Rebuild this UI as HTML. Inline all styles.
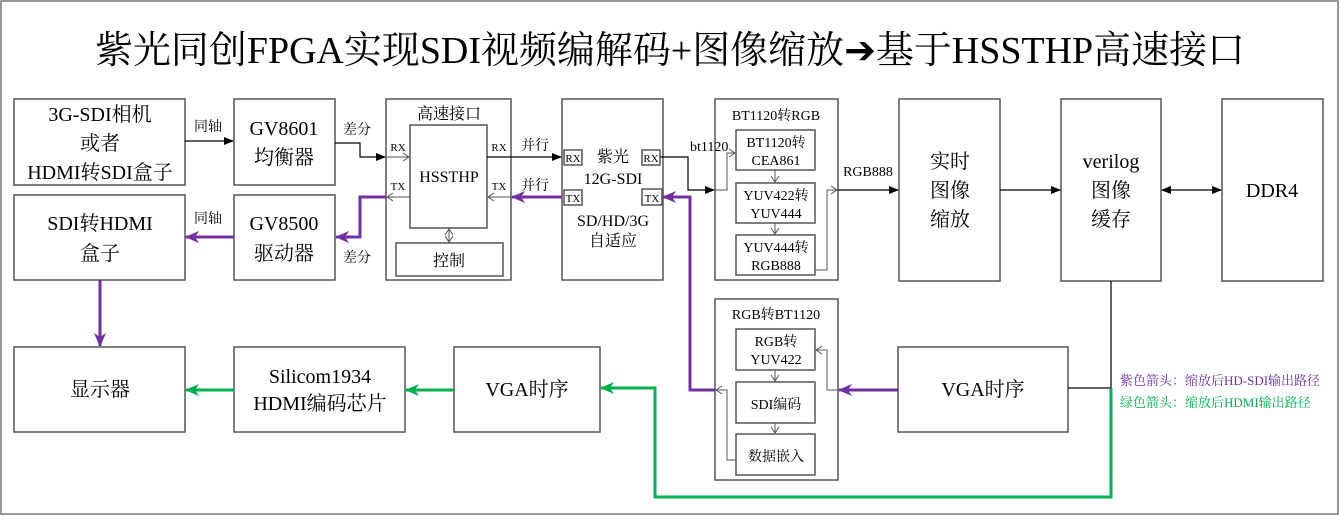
<!DOCTYPE html>
<html><head><meta charset="utf-8"><style>
html,body{margin:0;padding:0;background:#fff;}
svg{display:block;font-family:"Liberation Serif","Noto Serif CJK SC","Noto Sans CJK SC",serif;}
</style></head><body>
<svg width="1340" height="516" viewBox="0 0 1340 516" xmlns="http://www.w3.org/2000/svg">
<defs>
<marker id="ab" markerWidth="10" markerHeight="10" refX="9" refY="5" orient="auto" markerUnits="userSpaceOnUse"><path d="M0,1 L10,5 L0,9 z" fill="#000"/></marker>
<marker id="abs" markerWidth="10" markerHeight="10" refX="1" refY="5" orient="auto" markerUnits="userSpaceOnUse"><path d="M10,1 L0,5 L10,9 z" fill="#000"/></marker>
<marker id="ap" markerWidth="14" markerHeight="12" refX="13" refY="6" orient="auto" markerUnits="userSpaceOnUse"><path d="M0,0 L14,6 L0,12 L4,6 z" fill="#7030A0"/></marker>
<marker id="ag" markerWidth="14" markerHeight="12" refX="13" refY="6" orient="auto" markerUnits="userSpaceOnUse"><path d="M0,0 L14,6 L0,12 L4,6 z" fill="#00B050"/></marker>
<marker id="ao" markerWidth="8" markerHeight="10" refX="7" refY="5" orient="auto" markerUnits="userSpaceOnUse"><path d="M1,1 L7,5 L1,9" fill="none" stroke="#555" stroke-width="1"/></marker>
<marker id="aos" markerWidth="8" markerHeight="10" refX="1" refY="5" orient="auto" markerUnits="userSpaceOnUse"><path d="M7,1 L1,5 L7,9" fill="none" stroke="#555" stroke-width="1"/></marker>
</defs>
<rect x="1" y="1" width="1337" height="513" fill="#fff" stroke="#777" stroke-width="1.5"/>
<text x="670" y="63" font-size="38" text-anchor="middle" textLength="1150" lengthAdjust="spacingAndGlyphs">紫光同创FPGA实现SDI视频编解码+图像缩放<tspan font-family="DejaVu Sans, sans-serif">➔</tspan>基于HSSTHP高速接口</text>

<g fill="#fff" stroke="#555" stroke-width="1.5">
<rect x="14" y="99" width="171" height="86"/>
<rect x="234" y="99" width="101" height="86"/>
<rect x="386" y="99" width="125" height="181"/>
<rect x="410" y="125" width="77" height="103"/>
<rect x="396" y="243" width="107" height="33"/>
<rect x="562" y="99" width="101" height="181"/>
<rect x="715" y="99" width="123" height="181"/>
<rect x="736" y="130" width="79" height="40"/>
<rect x="736" y="183" width="79" height="40"/>
<rect x="736" y="235" width="79" height="40"/>
<rect x="899" y="99" width="101" height="182"/>
<rect x="1061" y="99" width="100" height="182"/>
<rect x="1222" y="99" width="101" height="182"/>
<rect x="14" y="195" width="171" height="85"/>
<rect x="234" y="195" width="101" height="85"/>
<rect x="14" y="347" width="171" height="85"/>
<rect x="234" y="347" width="171" height="85"/>
<rect x="454" y="347" width="146" height="85"/>
<rect x="715" y="299" width="123" height="181"/>
<rect x="736" y="329" width="79" height="41"/>
<rect x="736" y="382" width="79" height="41"/>
<rect x="736" y="434" width="79" height="41"/>
<rect x="898" y="347" width="170" height="85"/>
<rect x="564" y="150" width="18" height="15"/>
<rect x="564" y="190" width="18" height="15"/>
<rect x="642" y="150" width="18" height="15"/>
<rect x="642" y="189" width="20" height="16"/>
</g>

<g font-size="20" text-anchor="middle">
<text x="100" y="121">3G-SDI相机</text>
<text x="100" y="150">或者</text>
<text x="100" y="179">HDMI转SDI盒子</text>
<text x="284" y="135">GV8601</text>
<text x="284" y="164">均衡器</text>
<text x="100" y="230">SDI转HDMI</text>
<text x="100" y="260">盒子</text>
<text x="284" y="230">GV8500</text>
<text x="284" y="260">驱动器</text>
<text x="100" y="396">显示器</text>
<text x="320" y="383">Silicom1934</text>
<text x="320" y="410">HDMI编码芯片</text>
<text x="527" y="396">VGA时序</text>
<text x="983" y="396">VGA时序</text>
<text x="950" y="168">实时</text>
<text x="950" y="197">图像</text>
<text x="950" y="226">缩放</text>
<text x="1111" y="168">verilog</text>
<text x="1111" y="197">图像</text>
<text x="1111" y="226">缓存</text>
<text x="1272" y="197">DDR4</text>
</g>
<g font-size="16" text-anchor="middle">
<text x="449" y="119">高速接口</text>
<text x="449" y="182">HSSTHP</text>
<text x="449" y="266">控制</text>
<text x="613" y="162">紫光</text>
<text x="613" y="184">12G-SDI</text>
<text x="613" y="226">SD/HD/3G</text>
<text x="613" y="246">自适应</text>
</g>
<g font-size="14" text-anchor="middle">
<text x="776" y="120">BT1120转RGB</text>
<text x="776" y="147">BT1120转</text>
<text x="776" y="165">CEA861</text>
<text x="776" y="200">YUV422转</text>
<text x="776" y="218">YUV444</text>
<text x="776" y="252">YUV444转</text>
<text x="776" y="270">RGB888</text>
<text x="776" y="319">RGB转BT1120</text>
<text x="776" y="346">RGB转</text>
<text x="776" y="364">YUV422</text>
<text x="776" y="409">SDI编码</text>
<text x="776" y="461">数据嵌入</text>
<text x="868" y="176">RGB888</text>
<text x="690" y="151" text-anchor="start">bt1120</text>
<text x="208" y="131">同轴</text>
<text x="208" y="223">同轴</text>
<text x="357" y="134">差分</text>
<text x="357" y="262">差分</text>
<text x="535" y="150">并行</text>
<text x="535" y="190">并行</text>
</g>
<g font-size="11" text-anchor="middle">
<text x="398" y="151">RX</text>
<text x="398" y="190">TX</text>
<text x="499" y="151">RX</text>
<text x="499" y="190">TX</text>
<text x="573" y="162">RX</text>
<text x="573" y="202">TX</text>
<text x="651" y="162">RX</text>
<text x="652" y="202">TX</text>
</g>

<g fill="none" stroke="#000" stroke-width="1.2">
<path d="M185,141 H233" marker-end="url(#ab)"/>
<path d="M335,143 H360 V157 H385" marker-end="url(#ab)"/>
<path d="M487,157 H561" marker-end="url(#ab)"/>
<path d="M660,157 H688 V190 H714" marker-end="url(#ab)"/>
<path d="M838,190 H898" marker-end="url(#ab)"/>
<path d="M1000,190 H1060" marker-end="url(#ab)"/>
<path d="M1162,190 H1221" marker-start="url(#abs)" marker-end="url(#ab)"/>
<path d="M1111,281 V388 M1068,388 H1111"/>
</g>
<g fill="none" stroke="#555" stroke-width="1">
<path d="M386,157 H409" marker-end="url(#ao)"/>
<path d="M410,197 H387" marker-end="url(#ao)"/>
<path d="M511,197 H488" marker-end="url(#ao)"/>
<path d="M449,229 V242" marker-start="url(#aos)" marker-end="url(#ao)"/>
<path d="M715,190 H727 V153 H735" marker-end="url(#ao)"/>
<path d="M775,170 V182" marker-end="url(#ao)"/>
<path d="M775,223 V234" marker-end="url(#ao)"/>
<path d="M815,270 H827 V190 H837" marker-end="url(#ao)"/>
<path d="M838,390 H827 V350 H816" marker-end="url(#ao)"/>
<path d="M775,370 V381" marker-end="url(#ao)"/>
<path d="M775,423 V433" marker-end="url(#ao)"/>
<path d="M736,460 H727 V390 H716" marker-end="url(#ao)"/>
</g>
<g fill="none" stroke="#7030A0" stroke-width="3">
<path d="M562,197 H512" marker-end="url(#ap)"/>
<path d="M386,197 H360 V237 H336" marker-end="url(#ap)"/>
<path d="M234,237 H186" marker-end="url(#ap)"/>
<path d="M100,280 V346" marker-end="url(#ap)"/>
<path d="M898,390 H839" marker-end="url(#ap)"/>
<path d="M715,390 H690 V197 H663" marker-end="url(#ap)"/>
</g>
<g fill="none" stroke="#00B050" stroke-width="3">
<path d="M1111,388 V497 H655 V388 H601" marker-end="url(#ag)"/>
<path d="M454,390 H406" marker-end="url(#ag)"/>
<path d="M234,390 H186" marker-end="url(#ag)"/>
</g>
<text x="1120" y="385" font-size="13" fill="#7030A0">紫色箭头：缩放后HD-SDI输出路径</text>
<text x="1120" y="407" font-size="13" fill="#00B050">绿色箭头：缩放后HDMI输出路径</text>
</svg>
</body></html>
